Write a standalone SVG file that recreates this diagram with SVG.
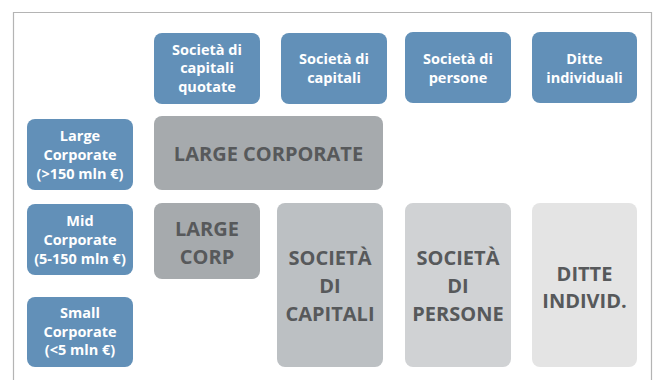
<svg xmlns="http://www.w3.org/2000/svg" width="656" height="380" viewBox="0 0 656 380">
<style>
.b{fill:#6290b8}
.t{font-family:"Open Sans","Noto Sans","Liberation Sans",sans-serif;font-weight:bold;text-anchor:middle}
.w{fill:#ffffff;font-size:14.5px}
.g{fill:#57595b;font-size:20px}
</style>
<rect width="656" height="380" fill="#ffffff"/>
<path d="M13.5 380V12.5H651.5V380" fill="none" stroke="#b4b4b4" stroke-width="1.2"/>
<g id="h1"><rect class="b" x="154" y="33" width="106" height="71" rx="8"/>
<text class="t w"><tspan x="207" y="54.5">Società di</tspan><tspan x="207" y="73">capitali</tspan><tspan x="207" y="91.5">quotate</tspan></text></g>
<g id="h2"><rect class="b" x="281" y="33" width="106" height="71" rx="8"/>
<text class="t w"><tspan x="334" y="64">Società di</tspan><tspan x="334" y="83">capitali</tspan></text></g>
<g id="h3"><rect class="b" x="405" y="32" width="106" height="71" rx="8"/>
<text class="t w"><tspan x="458" y="63.5">Società di</tspan><tspan x="458" y="82.5">persone</tspan></text></g>
<g id="h4"><rect class="b" x="532" y="32" width="105" height="71" rx="8"/>
<text class="t w"><tspan x="584.5" y="63.5">Ditte</tspan><tspan x="584.5" y="82.5">individuali</tspan></text></g>
<g id="r1"><rect class="b" x="27" y="119" width="106" height="71" rx="8"/>
<text class="t w"><tspan x="80" y="140.5">Large</tspan><tspan x="80" y="159.5">Corporate</tspan><tspan x="80" y="178.5">(&gt;150 mln €)</tspan></text></g>
<g id="r2"><rect class="b" x="27" y="204" width="106" height="71" rx="8"/>
<text class="t w"><tspan x="80" y="225.5">Mid</tspan><tspan x="80" y="244.5">Corporate</tspan><tspan x="80" y="263.5">(5-150 mln €)</tspan></text></g>
<g id="r3"><rect class="b" x="27" y="297" width="106" height="70" rx="8"/>
<text class="t w"><tspan x="80" y="317.5">Small</tspan><tspan x="80" y="336.5">Corporate</tspan><tspan x="80" y="355">(&lt;5 mln €)</tspan></text></g>
<g id="c1"><rect x="154" y="116" width="229" height="74" rx="8" fill="#a6aaad"/>
<text class="t g" x="268.5" y="160.5">LARGE CORPORATE</text></g>
<g id="c2"><rect x="154" y="203" width="106" height="76" rx="8" fill="#a6aaad"/>
<text class="t g"><tspan x="207" y="235.5">LARGE</tspan><tspan x="207" y="263.5">CORP</tspan></text></g>
<g id="c3"><rect x="277" y="203" width="106" height="164" rx="8" fill="#bcc0c3"/>
<text class="t g"><tspan x="330" y="264.5">SOCIETÀ</tspan><tspan x="330" y="292.5">DI</tspan><tspan x="330" y="320.5">CAPITALI</tspan></text></g>
<g id="c4"><rect x="405" y="203" width="106" height="164" rx="8" fill="#d0d2d4"/>
<text class="t g"><tspan x="458" y="264.5">SOCIETÀ</tspan><tspan x="458" y="292.5">DI</tspan><tspan x="458" y="320.5">PERSONE</tspan></text></g>
<g id="c5"><rect x="532" y="203" width="105" height="164" rx="8" fill="#e4e4e4"/>
<text class="t g"><tspan x="584.5" y="280.5">DITTE</tspan><tspan x="584.5" y="307.5">INDIVID.</tspan></text></g>
<g id="connectors"/>
</svg>
